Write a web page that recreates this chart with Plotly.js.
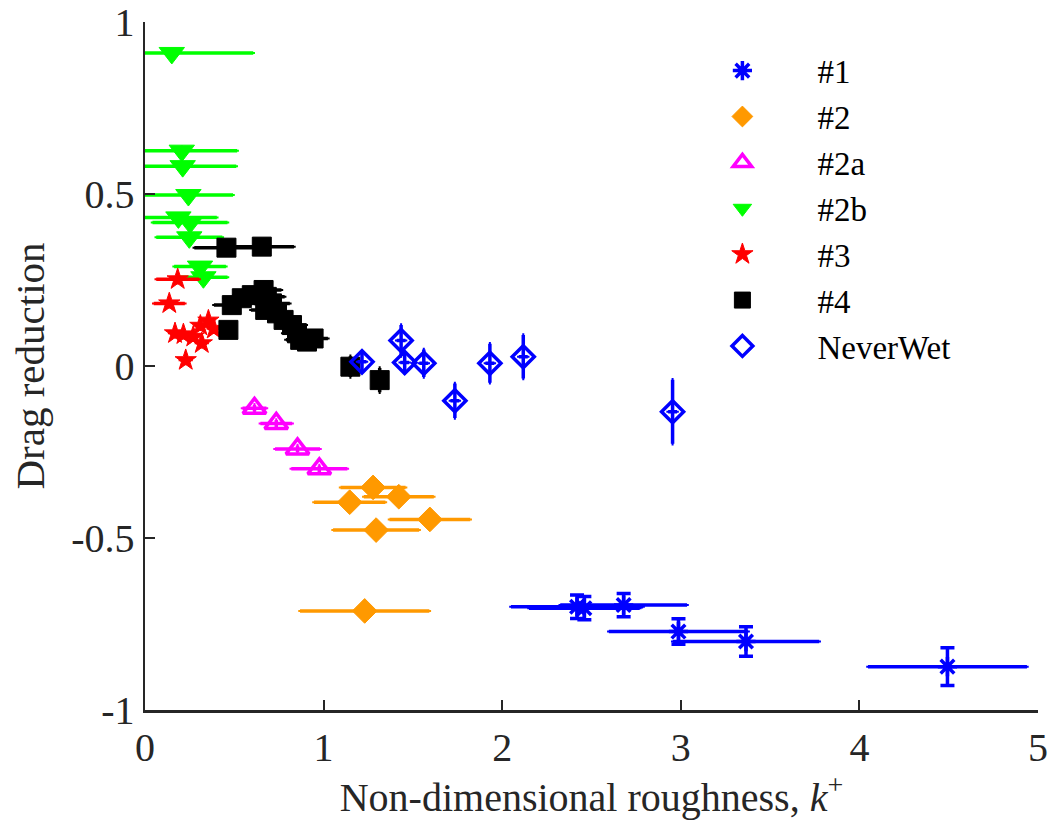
<!DOCTYPE html>
<html>
<head>
<meta charset="utf-8">
<script src="https://cdn.plot.ly/plotly-3.0.1.min.js"></script>
<style>html,body{margin:0;padding:0;background:#fff;}#chart{width:1052px;height:836px;}</style>
</head>
<body>
<div id="chart"></div>
<script>
// ---- data ----
const s1_x  = [2.419, 2.460, 2.680, 2.987, 3.365, 4.493];
const s1_y  = [-0.700, -0.704, -0.695, -0.772, -0.801, -0.874];
const s1_ex = [0.37, 0.31, 0.355, 0.39, 0.41, 0.445];
const s1_ey = [0.034, 0.034, 0.034, 0.037, 0.043, 0.055];

const s2_x  = [1.277, 1.146, 1.421, 1.595, 1.294, 1.230];
const s2_y  = [-0.353, -0.396, -0.380, -0.446, -0.477, -0.712];
const s2_ex = [0.182, 0.20, 0.196, 0.226, 0.241, 0.362];
const s2_ey = [0.01, 0.01, 0.01, 0.01, 0.01, 0.01];

const s2a_x  = [0.613, 0.735, 0.854, 0.976];
const s2a_y  = [-0.123, -0.167, -0.241, -0.299];
const s2a_ex = [0.067, 0.089, 0.126, 0.157];
const s2a_ey = [0.01, 0.01, 0.01, 0.01];

const s2b_x  = [0.150, 0.206, 0.211, 0.243, 0.187, 0.252, 0.248, 0.308, 0.327];
const s2b_y  = [0.910, 0.626, 0.581, 0.497, 0.432, 0.417, 0.374, 0.289, 0.258];
const s2b_ex = [0.456, 0.31, 0.30, 0.25, 0.215, 0.21, 0.185, 0.145, 0.135];
const s2b_ey = [0.01, 0.01, 0.01, 0.01, 0.01, 0.01, 0.01, 0.01, 0.01];

const s3_x  = [0.183, 0.136, 0.168, 0.215, 0.270, 0.310, 0.355, 0.385, 0.318, 0.228];
const s3_y  = [0.252, 0.182, 0.095, 0.092, 0.085, 0.117, 0.132, 0.108, 0.066, 0.017];
const s3_ex = [0.12, 0.087, 0.03, 0.03, 0.03, 0.03, 0.03, 0.03, 0.03, 0.03];
const s3_ey = [0.01, 0.01, 0.01, 0.01, 0.01, 0.01, 0.01, 0.01, 0.01, 0.01];

const s4_x  = [0.456, 0.654, 0.467, 0.486, 0.542, 0.598, 0.664, 0.682, 0.711, 0.673, 0.739, 0.776, 0.823, 0.851, 0.869, 0.907, 0.944, 1.150, 1.314];
const s4_y  = [0.344, 0.347, 0.105, 0.177, 0.197, 0.206, 0.221, 0.201, 0.182, 0.163, 0.153, 0.134, 0.119, 0.095, 0.076, 0.071, 0.080, -0.002, -0.041];
const s4_ex = [0.18, 0.18, 0.02, 0.1, 0.1, 0.1, 0.1, 0.1, 0.1, 0.08, 0.08, 0.08, 0.08, 0.08, 0.08, 0.08, 0.08, 0.02, 0.02];
const s4_ey = [0.01, 0.01, 0.01, 0.01, 0.01, 0.01, 0.01, 0.01, 0.01, 0.01, 0.01, 0.01, 0.01, 0.01, 0.01, 0.01, 0.01, 0.03, 0.035];

const nw_x  = [1.215, 1.434, 1.454, 1.561, 1.735, 1.931, 2.118, 2.954];
const nw_y  = [0.012, 0.074, 0.010, 0.008, -0.101, 0.008, 0.027, -0.133];
const nw_ex = [0.025, 0.025, 0.025, 0.025, 0.025, 0.025, 0.025, 0.025];
const nw_ey = [0.03, 0.045, 0.03, 0.04, 0.05, 0.057, 0.063, 0.093];

const names = ['#1', '#2', '#2a', '#2b', '#3', '#4', 'NeverWet'];
const xTicks = [0, 1, 2, 3, 4, 5];
const yTicks = [-1, -0.5, 0, 0.5, 1];
const yTickText = ['-1', '-0.5', '0', '0.5', '1'];

function mk(name, x, y, ex, ey, color, symbol, size, lw, capx, capy) {
  return {
    type: 'scatter', mode: 'markers', name: name, x: x, y: y,
    marker: {color: color, symbol: symbol, size: size, line: {color: color, width: lw}},
    error_x: {type: 'data', array: ex, visible: true, color: color, thickness: 3.5, width: capx},
    error_y: {type: 'data', array: ey, visible: true, color: color, thickness: 3.5, width: capy}
  };
}

const traces = [
  mk(names[0], s1_x, s1_y, s1_ex, s1_ey, '#0000FF', 'asterisk-open', 16, 3.5, 1, 7),
  mk(names[1], s2_x, s2_y, s2_ex, s2_ey, '#FF9900', 'diamond', 19, 1, 1, 1),
  mk(names[2], s2a_x, s2a_y, s2a_ex, s2a_ey, '#FF00FF', 'triangle-up-open', 20, 3.5, 1, 1),
  mk(names[3], s2b_x, s2b_y, s2b_ex, s2b_ey, '#00FF00', 'triangle-down', 22, 1, 1, 1),
  mk(names[4], s3_x, s3_y, s3_ex, s3_ey, '#FF0000', 'star', 16, 1, 1, 1),
  mk(names[5], s4_x, s4_y, s4_ex, s4_ey, '#000000', 'square', 19, 1, 1, 1),
  mk(names[6], nw_x, nw_y, nw_ex, nw_ey, '#0000FF', 'diamond-open', 17, 3.5, 1, 1)
];

const FAM = 'Liberation Serif';
const tickFont = {family: FAM, size: 40, color: '#262626'};

const layout = {
  width: 1052, height: 836,
  paper_bgcolor: '#fff', plot_bgcolor: '#fff',
  margin: {l: 145, r: 14, t: 22, b: 126},
  showlegend: true,
  legend: {
    x: 0.585, y: 0.97, xanchor: 'left', yanchor: 'top',
    font: {family: FAM, size: 33, color: '#000'},
    itemwidth: 140, tracegroupgap: 0, bgcolor: 'rgba(0,0,0,0)'
  },
  xaxis: {
    range: [0, 5], tickvals: xTicks, ticktext: xTicks.map(String),
    ticks: 'inside', ticklen: 10, tickwidth: 2, tickcolor: '#262626',
    showline: true, linecolor: '#262626', linewidth: 2.5, mirror: false,
    showgrid: false, zeroline: false, tickfont: tickFont,
    title: {text: 'Non-dimensional roughness, <i>k</i><sup>+</sup>', font: {family: FAM, size: 40, color: '#262626'}, standoff: 12}
  },
  yaxis: {
    range: [-1, 1], tickvals: yTicks, ticktext: yTickText,
    ticks: 'inside', ticklen: 10, tickwidth: 2, tickcolor: '#262626',
    showline: true, linecolor: '#262626', linewidth: 2.5, mirror: false,
    showgrid: false, zeroline: false, tickfont: tickFont,
    title: {text: 'Drag reduction', font: {family: FAM, size: 41, color: '#262626'}, standoff: 14}
  }
};

Plotly.newPlot('chart', traces, layout, {displayModeBar: false, staticPlot: true});
</script>
</body>
</html>
